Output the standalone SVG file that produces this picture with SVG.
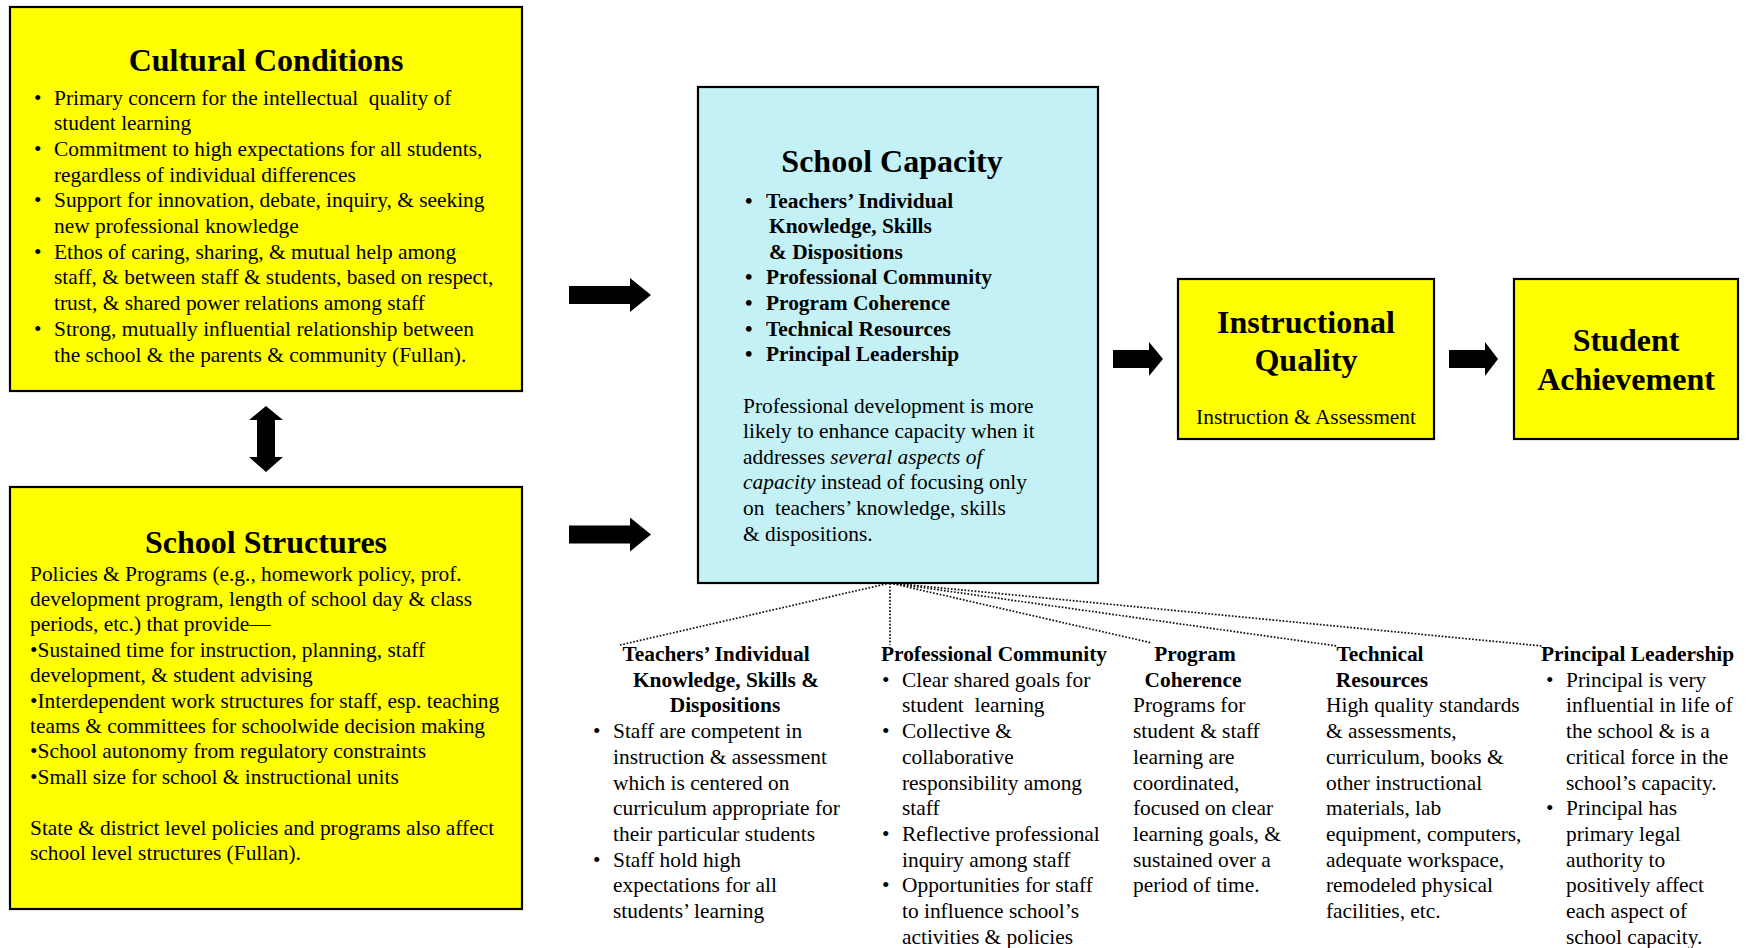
<svg xmlns="http://www.w3.org/2000/svg" width="1746" height="948" viewBox="0 0 1746 948" xml:space="preserve">
<style>
text{font-family:"Liberation Serif","Times New Roman",serif;fill:#000;white-space:pre}
.t{font-size:32px;font-weight:bold;text-anchor:middle}
.b{font-size:21.4px}
.bb{font-size:21.4px;font-weight:bold}
.c{text-anchor:middle}
.box{stroke:#000;stroke-width:2.2}
.y{fill:#ffff00}
.cy{fill:#c4f1f6}
.arr{fill:#000}
.dot{stroke:#111;stroke-width:1.7;stroke-dasharray:1.7 1.7;fill:none}
</style>
<rect width="1746" height="948" fill="#fff"/>
<g id="connectors">
<path class="arr" d="M569,286 H630 V278 L651,295 L630,312 V304 H569 Z"/>
<path class="arr" d="M569,525.5 H630 V517.5 L651,534.5 L630,551.5 V543.5 H569 Z"/>
<path class="arr" d="M1113,350 H1149 V342 L1163,359 L1149,376 V368 H1113 Z"/>
<path class="arr" d="M1449,350 H1485 V342 L1498,359 L1485,376 V368 H1449 Z"/>
<path class="arr" d="M266,406 L283,420 H275 V457 H283 L266,472 L249,457 H257 V420 H249 Z"/>
<line class="dot" x1="890" y1="583" x2="620" y2="645"/>
<line class="dot" x1="890" y1="583" x2="890" y2="645"/>
<line class="dot" x1="890" y1="583" x2="1152" y2="643"/>
<line class="dot" x1="890" y1="583" x2="1337" y2="646"/>
<line class="dot" x1="890" y1="583" x2="1542" y2="646"/>
</g>
<g id="cultural-conditions">
<rect class="box y" x="10" y="7" width="512" height="384"/>
<text class="t" x="266" y="71">Cultural Conditions</text>
<text class="b" x="34" y="104.5">•</text>
<text class="b" x="54" y="104.5">Primary concern for the intellectual  quality of</text>
<text class="b" x="54" y="130.2">student learning</text>
<text class="b" x="34" y="155.9">•</text>
<text class="b" x="54" y="155.9">Commitment to high expectations for all students,</text>
<text class="b" x="54" y="181.6">regardless of individual differences</text>
<text class="b" x="34" y="207.3">•</text>
<text class="b" x="54" y="207.3">Support for innovation, debate, inquiry, &amp; seeking</text>
<text class="b" x="54" y="233">new professional knowledge</text>
<text class="b" x="34" y="258.7">•</text>
<text class="b" x="54" y="258.7">Ethos of caring, sharing, &amp; mutual help among</text>
<text class="b" x="54" y="284.4">staff, &amp; between staff &amp; students, based on respect,</text>
<text class="b" x="54" y="310.1">trust, &amp; shared power relations among staff</text>
<text class="b" x="34" y="335.8">•</text>
<text class="b" x="54" y="335.8">Strong, mutually influential relationship between</text>
<text class="b" x="54" y="361.5">the school &amp; the parents &amp; community (Fullan).</text>
</g>
<g id="school-structures">
<rect class="box y" x="10" y="487" width="512" height="422"/>
<text class="t" x="266" y="553">School Structures</text>
<text class="b" x="30" y="580.5">Policies &amp; Programs (e.g., homework policy, prof.</text>
<text class="b" x="30" y="605.9">development program, length of school day &amp; class</text>
<text class="b" x="30" y="631.3">periods, etc.) that provide—</text>
<text class="b" x="30" y="656.7">•Sustained time for instruction, planning, staff</text>
<text class="b" x="30" y="682.1">development, &amp; student advising</text>
<text class="b" x="30" y="707.5">•Interdependent work structures for staff, esp. teaching</text>
<text class="b" x="30" y="732.9">teams &amp; committees for schoolwide decision making</text>
<text class="b" x="30" y="758.3">•School autonomy from regulatory constraints</text>
<text class="b" x="30" y="783.7">•Small size for school &amp; instructional units</text>
<text class="b" x="30" y="834.5">State &amp; district level policies and programs also affect</text>
<text class="b" x="30" y="859.9">school level structures (Fullan).</text>
</g>
<g id="school-capacity">
<rect class="box cy" x="698" y="87" width="400" height="496"/>
<text class="t" x="892" y="172">School Capacity</text>
<text class="bb" x="745" y="207.5">•</text>
<text class="bb" x="766" y="207.5">Teachers’ Individual</text>
<text class="bb" x="769" y="233.1">Knowledge, Skills</text>
<text class="bb" x="769" y="258.7">&amp; Dispositions</text>
<text class="bb" x="745" y="284.3">•</text>
<text class="bb" x="766" y="284.3">Professional Community</text>
<text class="bb" x="745" y="309.9">•</text>
<text class="bb" x="766" y="309.9">Program Coherence</text>
<text class="bb" x="745" y="335.5">•</text>
<text class="bb" x="766" y="335.5">Technical Resources</text>
<text class="bb" x="745" y="361.1">•</text>
<text class="bb" x="766" y="361.1">Principal Leadership</text>
<text class="b" x="743" y="412.5">Professional development is more</text>
<text class="b" x="743" y="438.1">likely to enhance capacity when it</text>
<text class="b" x="743" y="463.7">addresses <tspan font-style="italic">several aspects of</tspan></text>
<text class="b" x="743" y="489.3"><tspan font-style="italic">capacity</tspan> instead of focusing only</text>
<text class="b" x="743" y="514.9">on  teachers’ knowledge, skills</text>
<text class="b" x="743" y="540.5">&amp; dispositions.</text>
</g>
<g id="instructional-quality">
<rect class="box y" x="1178" y="279" width="256" height="160"/>
<text class="t" x="1306" y="333">Instructional</text>
<text class="t" x="1306" y="371">Quality</text>
<text class="b c" x="1306" y="424">Instruction &amp; Assessment</text>
</g>
<g id="student-achievement">
<rect class="box y" x="1514" y="279" width="224" height="160"/>
<text class="t" x="1626" y="351">Student</text>
<text class="t" x="1626" y="390">Achievement</text>
</g>
<g id="teachers-individual">
<text class="bb c" x="716" y="661">Teachers’ Individual</text>
<text class="bb c" x="726" y="686.7">Knowledge, Skills &amp;</text>
<text class="bb c" x="725" y="712.4">Dispositions</text>
<text class="b" x="593" y="738.1">•</text>
<text class="b" x="613" y="738.1">Staff are competent in</text>
<text class="b" x="613" y="763.8">instruction &amp; assessment</text>
<text class="b" x="613" y="789.5">which is centered on</text>
<text class="b" x="613" y="815.2">curriculum appropriate for</text>
<text class="b" x="613" y="840.9">their particular students</text>
<text class="b" x="593" y="866.6">•</text>
<text class="b" x="613" y="866.6">Staff hold high</text>
<text class="b" x="613" y="892.3">expectations for all</text>
<text class="b" x="613" y="918">students’ learning</text>
</g>
<g id="professional-community">
<text class="bb" x="881" y="661">Professional Community</text>
<text class="b" x="882" y="686.7">•</text>
<text class="b" x="902" y="686.7">Clear shared goals for</text>
<text class="b" x="902" y="712.4">student  learning</text>
<text class="b" x="882" y="738.1">•</text>
<text class="b" x="902" y="738.1">Collective &amp;</text>
<text class="b" x="902" y="763.8">collaborative</text>
<text class="b" x="902" y="789.5">responsibility among</text>
<text class="b" x="902" y="815.2">staff</text>
<text class="b" x="882" y="840.9">•</text>
<text class="b" x="902" y="840.9">Reflective professional</text>
<text class="b" x="902" y="866.6">inquiry among staff</text>
<text class="b" x="882" y="892.3">•</text>
<text class="b" x="902" y="892.3">Opportunities for staff</text>
<text class="b" x="902" y="918">to influence school’s</text>
<text class="b" x="902" y="943.7">activities &amp; policies</text>
</g>
<g id="program-coherence">
<text class="bb c" x="1195" y="661">Program</text>
<text class="bb c" x="1193" y="686.7">Coherence</text>
<text class="b" x="1133" y="712.4">Programs for</text>
<text class="b" x="1133" y="738.1">student &amp; staff</text>
<text class="b" x="1133" y="763.8">learning are</text>
<text class="b" x="1133" y="789.5">coordinated,</text>
<text class="b" x="1133" y="815.2">focused on clear</text>
<text class="b" x="1133" y="840.9">learning goals, &amp;</text>
<text class="b" x="1133" y="866.6">sustained over a</text>
<text class="b" x="1133" y="892.3">period of time.</text>
</g>
<g id="technical-resources">
<text class="bb c" x="1380" y="661">Technical</text>
<text class="bb c" x="1382" y="686.7">Resources</text>
<text class="b" x="1326" y="712.4">High quality standards</text>
<text class="b" x="1326" y="738.1">&amp; assessments,</text>
<text class="b" x="1326" y="763.8">curriculum, books &amp;</text>
<text class="b" x="1326" y="789.5">other instructional</text>
<text class="b" x="1326" y="815.2">materials, lab</text>
<text class="b" x="1326" y="840.9">equipment, computers,</text>
<text class="b" x="1326" y="866.6">adequate workspace,</text>
<text class="b" x="1326" y="892.3">remodeled physical</text>
<text class="b" x="1326" y="918">facilities, etc.</text>
</g>
<g id="principal-leadership">
<text class="bb" x="1541" y="661">Principal Leadership</text>
<text class="b" x="1546" y="686.7">•</text>
<text class="b" x="1566" y="686.7">Principal is very</text>
<text class="b" x="1566" y="712.4">influential in life of</text>
<text class="b" x="1566" y="738.1">the school &amp; is a</text>
<text class="b" x="1566" y="763.8">critical force in the</text>
<text class="b" x="1566" y="789.5">school’s capacity.</text>
<text class="b" x="1546" y="815.2">•</text>
<text class="b" x="1566" y="815.2">Principal has</text>
<text class="b" x="1566" y="840.9">primary legal</text>
<text class="b" x="1566" y="866.6">authority to</text>
<text class="b" x="1566" y="892.3">positively affect</text>
<text class="b" x="1566" y="918">each aspect of</text>
<text class="b" x="1566" y="943.7">school capacity.</text>
</g>
</svg>
